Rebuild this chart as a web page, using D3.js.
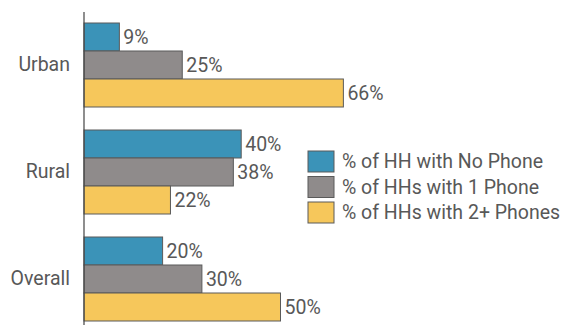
<!DOCTYPE html>
<html>
<head>
<meta charset="utf-8">
<script src="https://cdn.jsdelivr.net/npm/d3@7"></script>
<style>
  html, body { margin: 0; padding: 0; background: #fff; }
  svg { display: block; font-family: Roboto, "Open Sans", sans-serif; }
</style>
</head>
<body>
<svg id="chart" width="568" height="325"></svg>
<script>
// Household phone ownership by area
const categories = ["Urban", "Rural", "Overall"];
const seriesNames = ["% of HH with No Phone", "% of HHs with 1 Phone", "% of HHs with 2+ Phones"];
const noPhone = [9, 40, 20];
const onePhone = [25, 38, 30];
const twoPlusPhones = [66, 22, 50];
const colors = ["#3b93b8", "#8f8b8b", "#f6c75b"];

const series = [noPhone, onePhone, twoPlusPhones];
const rows = categories.map((c, i) => ({
  category: c,
  values: series.map((s, k) => ({ key: seriesNames[k], value: s[i], k }))
}));

const svg = d3.select("#chart");
const x0 = 84;
const fontSize = 19.5;
const textColor = "#585858";

const x = d3.scaleLinear().domain([0, 100]).range([x0, x0 + 393]);
const y = d3.scaleBand().domain(categories).range([12, 332])
  .paddingInner(23 / 107).paddingOuter(11 / 107);
const ySub = d3.scaleBand().domain(d3.range(series.length)).range([0, y.bandwidth()]);

const groups = svg.selectAll("g.group").data(rows).join("g")
  .attr("class", "group")
  .attr("transform", d => `translate(0,${y(d.category)})`);

groups.selectAll("rect").data(d => d.values).join("rect")
  .attr("x", x(0))
  .attr("y", d => ySub(d.k))
  .attr("width", d => x(d.value) - x(0))
  .attr("height", ySub.bandwidth())
  .attr("fill", d => colors[d.k])
  .attr("stroke", "#5a5a5a")
  .attr("stroke-width", 1);

groups.selectAll("text.val").data(d => d.values).join("text")
  .attr("class", "val")
  .attr("x", d => x(d.value) + 4)
  .attr("y", d => ySub(d.k) + ySub.bandwidth() / 2)
  .attr("dy", "0.35em")
  .attr("font-size", fontSize)
  .attr("fill", textColor)
  .text(d => d.value + "%");

// Category axis
const axis = d3.axisLeft(y).tickSize(0).tickPadding(14);
const gAxis = svg.append("g").attr("transform", `translate(${x0},0)`).call(axis);
gAxis.select(".domain").remove();
gAxis.selectAll("text")
  .attr("font-size", fontSize)
  .attr("fill", textColor)
  .attr("font-family", "Roboto, sans-serif");
svg.append("line")
  .attr("x1", x0).attr("x2", x0)
  .attr("y1", 12).attr("y2", 325)
  .attr("stroke", "#444").attr("stroke-width", 1.2);

// Legend
const legend = svg.append("g").attr("transform", "translate(308,151)");
const item = legend.selectAll("g").data(seriesNames).join("g")
  .attr("transform", (d, i) => `translate(0,${i * 25.5})`);
item.append("rect")
  .attr("width", 26).attr("height", 21)
  .attr("fill", (d, i) => colors[i])
  .attr("stroke", "#5a5a5a");
item.append("text")
  .attr("x", 34).attr("y", 10.5).attr("dy", "0.35em")
  .attr("font-size", fontSize).attr("fill", textColor)
  .text(d => d);
</script>
</body>
</html>
